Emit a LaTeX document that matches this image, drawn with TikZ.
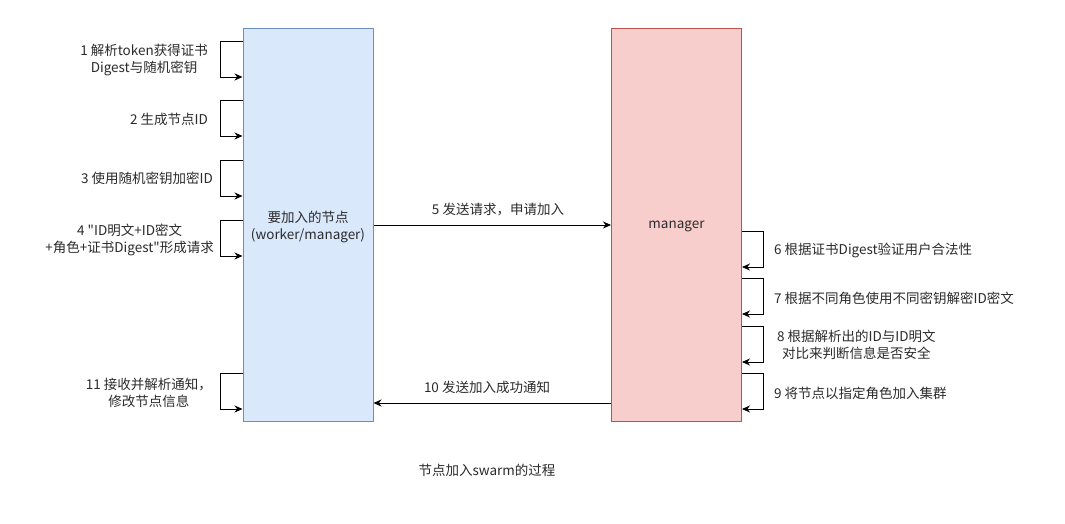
\documentclass[tikz,border=0pt]{standalone}
\usepackage{fontspec}
\newfontfamily\cjkfont{Noto Sans CJK SC}
\usepackage{tikz}
\usetikzlibrary{arrows.meta,positioning}
\definecolor{workerfill}{HTML}{DAE8FC}
\definecolor{workerline}{HTML}{6C8EBF}
\definecolor{managerfill}{HTML}{F8CECC}
\definecolor{managerline}{HTML}{B85450}
\definecolor{textgray}{HTML}{2B2B2B}

\begin{document}
\begin{tikzpicture}[x=1pt,y=-1pt,
  every node/.style={font=\cjkfont\fontsize{13.5}{16.5}\selectfont,text=textgray},
  box/.style={draw,line width=1pt,minimum width=130pt,minimum height=393pt,inner sep=0pt},
  workerbox/.style={box,fill=workerfill,draw=workerline},
  managerbox/.style={box,fill=managerfill,draw=managerline},
  msg/.style={line width=0.9pt,-{Stealth[length=8pt,width=7pt]}},
  selfloop/.style={msg},
  steptext/.style={align=center,inner sep=0pt}]
  \useasboundingbox[fill=white] (0,0) rectangle (1065,523);
  \node[workerbox] (worker) at (308,224.5) {};
  \node[managerbox] (manager) at (676.5,224.5) {};
  \node[steptext] (workerlabel) at (308,227) {要加入的节点\\(worker/manager)};
  \node[steptext] (managerlabel) at (676.5,226) {manager};
  \draw[selfloop] (worker.west |- 0,41) -- (220,41) |- (worker.west |- 0,77);
  \draw[selfloop] (worker.west |- 0,100) -- (220,100) |- (worker.west |- 0,136);
  \draw[selfloop] (worker.west |- 0,160) -- (220,160) |- (worker.west |- 0,196);
  \draw[selfloop] (worker.west |- 0,220) -- (220,220) |- (worker.west |- 0,256);
  \draw[selfloop] (worker.west |- 0,373) -- (220,373) |- (worker.west |- 0,409);
  \node[steptext,anchor=east] (step1) at (208,60) {1 解析token获得证书\\Digest与随机密钥};
  \node[steptext,anchor=east] (step2) at (208,119) {2 生成节点ID};
  \node[steptext,anchor=east] (step3) at (213,178) {3 使用随机密钥加密ID};
  \node[steptext,anchor=east] (step4) at (214,240) {4 "ID明文+ID密文\\+角色+证书Digest"形成请求};
  \node[steptext,anchor=east] (step11) at (212,393) {11 接收并解析通知，\\修改节点信息};
  \draw[msg] (worker.east |- 0,225) -- (manager.west |- 0,225);
  \node[steptext] (step5) at (498,210) {5 发送请求，申请加入};
  \draw[msg] (manager.west |- 0,403) -- (worker.east |- 0,403);
  \node[steptext] (step10) at (487,387) {10 发送加入成功通知};
  \draw[selfloop] (manager.east |- 0,231) -- (763,231) |- (manager.east |- 0,267);
  \draw[selfloop] (manager.east |- 0,278) -- (763,278) |- (manager.east |- 0,314);
  \draw[selfloop] (manager.east |- 0,326) -- (763,326) |- (manager.east |- 0,362);
  \draw[selfloop] (manager.east |- 0,373) -- (763,373) |- (manager.east |- 0,409);
  \node[steptext,anchor=west] (step6) at (774,250) {6 根据证书Digest验证用户合法性};
  \node[steptext,anchor=west] (step7) at (774,298) {7 根据不同角色使用不同密钥解密ID密文};
  \node[steptext,anchor=west] (step8) at (777,345) {8 根据解析出的ID与ID明文\\对比来判断信息是否安全};
  \node[steptext,anchor=west] (step9) at (774,393) {9 将节点以指定角色加入集群};
  \node[steptext] (caption) at (487,470) {节点加入swarm的过程};
\end{tikzpicture}
\end{document}
